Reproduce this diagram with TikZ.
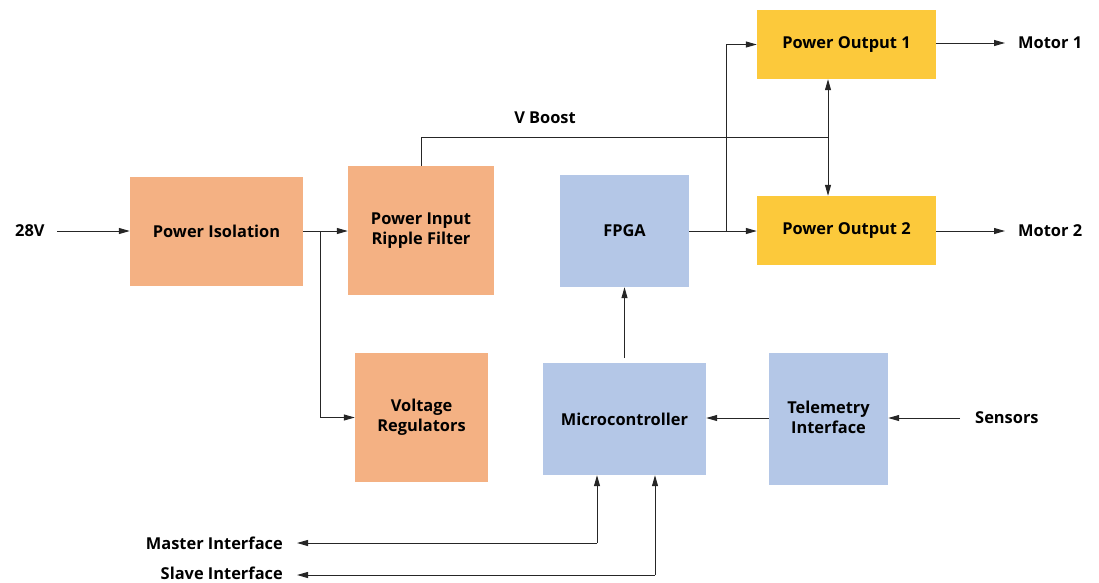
\documentclass[tikz,border=0pt]{standalone}
\usepackage{fontspec}
\setmainfont{Open Sans}[UprightFont=* Bold]
\usetikzlibrary{arrows.meta}
\definecolor{orng}{HTML}{F4B183}
\definecolor{blu}{HTML}{B4C7E7}
\definecolor{ylw}{HTML}{FCC93B}
\newcommand{\twoline}[2]{\raisebox{-2pt}{\begin{tabular}{@{}c@{}}#1\\#2\end{tabular}}}
\begin{document}
\begin{tikzpicture}[x=1pt,y=-1pt,
  blk/.style={inner sep=0pt, align=center, font=\fontsize{16.4}{20}\selectfont},
  orbox/.style={blk, fill=orng},
  blbox/.style={blk, fill=blu},
  ylbox/.style={blk, fill=ylw},
  lbl/.style={inner sep=0pt, font=\fontsize{16.4}{20}\selectfont},
  conn/.style={draw=black!85, line width=1pt, -{Triangle[length=11pt,width=6pt]}},
  wire/.style={draw=black!85, line width=1pt}]
\useasboundingbox (0,0) rectangle (1099,582);
% boxes
\node[orbox, minimum width=173pt, minimum height=109pt] (iso) at (216.5,231.5) {Power Isolation};
\node[orbox, minimum width=146pt, minimum height=129pt] (rip) at (421,230.5) {\twoline{Power Input}{Ripple Filter}};
\node[orbox, minimum width=133pt, minimum height=129pt] (vreg) at (421.5,417.5) {\twoline{Voltage}{Regulators}};
\node[blbox, minimum width=129pt, minimum height=112pt] (fpga) at (624.5,231) {FPGA};
\node[blbox, minimum width=163pt, minimum height=112pt] (mcu) at (624.5,419) {Microcontroller};
\node[blbox, minimum width=119pt, minimum height=132pt] (tel) at (828.5,419) {\twoline{Telemetry}{Interface}};
\node[ylbox, minimum width=179pt, minimum height=69pt] (po1) at (846.5,44.5) {Power Output 1};
\node[ylbox, minimum width=179pt, minimum height=69pt] (po2) at (846.5,230.5) {Power Output 2};
% labels
\node[lbl, anchor=west] (v28) at (15,231) {28V};
\node[lbl, anchor=west] (m1) at (1018,43) {Motor 1};
\node[lbl, anchor=west] (m2) at (1018,231) {Motor 2};
\node[lbl, anchor=west] (sens) at (975,418) {Sensors};
\node[lbl, anchor=east] (mst) at (283,543) {Master Interface};
\node[lbl, anchor=base east] (slv) at (283,579) {Slave Interface};
\node[lbl] (vb) at (545,118) {V Boost};
% coordinates
\coordinate (v28e) at (57,231);
\coordinate (j1) at (320,231);
\coordinate (vbt) at (421,137);
\coordinate (vbj) at (828,137);
\coordinate (fj) at (726,231);
\coordinate (sensw) at (960,418);
\coordinate (mste) at (297,543);
\coordinate (slve) at (297,575);
\coordinate (m1w) at (1005,43);
\coordinate (m2w) at (1005,231);
% connectors
\draw[conn] (v28e) -- (iso.west |- v28e);
\draw[conn] (iso.east |- j1) -- (rip.west |- j1);
\draw[conn] (j1) |- (vreg.west);
\draw[wire] (rip.north) -- (vbt) -- (vbj);
\draw[conn] (vbj) -- (po1.south -| vbj);
\draw[conn] (vbj) -- (po2.north -| vbj);
\draw[conn] (fpga.east |- fj) -- (po2.west |- fj);
\draw[conn] (fj) |- (po1.west);
\draw[conn] (mcu.north |- 0,358) -- (fpga.south);
\draw[conn] (tel.west |- sensw) -- (mcu.east |- sensw);
\draw[conn] (sensw) -- (tel.east |- sensw);
\draw[conn] (po1.east |- m1w) -- (m1w);
\draw[conn] (po2.east |- m2w) -- (m2w);
\draw[conn] (597,543) coordinate (ma) -- (mcu.south -| ma);
\draw[conn] (ma) -- (mste);
\draw[conn] (655,575) coordinate (sa) -- (mcu.south -| sa);
\draw[conn] (sa) -- (slve);
\end{tikzpicture}
\end{document}
